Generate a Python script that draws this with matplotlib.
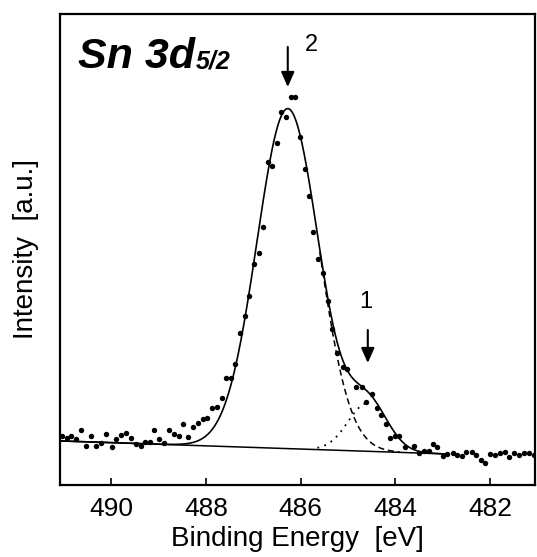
import numpy as np
import matplotlib.pyplot as plt

plt.rcParams['font.family'] = ['Liberation Sans', 'DejaVu Sans']

energy = [491.04, 490.93, 490.84, 490.74, 490.64, 490.53, 490.42, 490.32, 490.21, 490.11,
          489.99, 489.89, 489.79, 489.69, 489.58, 489.48, 489.37, 489.28, 489.18, 489.09,
          488.99, 488.88, 488.78, 488.68, 488.57, 488.48, 488.38, 488.28, 488.17, 488.07,
          487.97, 487.88, 487.77, 487.66, 487.57, 487.47, 487.38, 487.28, 487.18, 487.08,
          486.98, 486.88, 486.79, 486.69, 486.60, 486.50, 486.41, 486.31, 486.20, 486.11,
          486.01, 485.91, 485.82, 485.73, 485.63, 485.52, 485.42, 485.34, 485.24, 485.11,
          485.01, 484.82, 484.71, 484.61, 484.50, 484.39, 484.30, 484.20, 484.11, 484.01,
          483.92, 483.80, 483.60, 483.50, 483.39, 483.28, 483.20, 483.11, 483.00, 482.90,
          482.79, 482.69, 482.59, 482.50, 482.39, 482.30, 482.19, 482.11, 482.00, 481.90,
          481.79, 481.69, 481.60, 481.49, 481.39, 481.29, 481.18, 481.08]
intensity = [52, 50, 52, 49, 58, 42, 52, 42, 45, 54,
             41, 49, 53, 55, 50, 44, 42, 46, 46, 58,
             49, 45, 58, 54, 52, 64, 51, 61, 65, 69,
             70, 80, 81, 90, 110, 110, 124, 155, 172, 192,
             224, 235, 261, 326, 322, 345, 376, 371, 391, 391,
             351, 319, 292, 256, 229, 215, 187, 159, 135, 121,
             119, 101, 101, 86, 94, 80, 73, 64, 50, 52,
             52, 41, 42, 35, 37, 37, 44, 41, 32, 34,
             35, 33, 32, 36, 36, 33, 28, 25, 34, 33,
             35, 36, 31, 35, 33, 35, 35, 33]

# fitted components: peak 1 (shoulder), peak 2 (main)
peak_label = ['1', '2']
peak_centre = [484.58, 486.27]
peak_height = [48, 340]
peak_fwhm = [0.98, 1.53]

# linear background end points
bg_energy = [491.05, 482.9]
bg_level = [47, 34]

x_ticks = [490, 488, 486, 484, 482]


def gauss(e, centre, height, fwhm):
    sigma = fwhm / (2.0 * np.sqrt(2.0 * np.log(2.0)))
    return height * np.exp(-(e - centre) ** 2 / (2.0 * sigma ** 2))


def background(e):
    return np.interp(e, bg_energy[::-1], bg_level[::-1])


fig = plt.figure(figsize=(5.37, 5.57), dpi=100)
ax = fig.add_axes([0.1117, 0.1293, 0.8845, 0.8456])

e = np.linspace(bg_energy[0], bg_energy[1], 800)
comp1 = gauss(e, peak_centre[0], peak_height[0], peak_fwhm[0])
comp2 = gauss(e, peak_centre[1], peak_height[1], peak_fwhm[1])
bg = background(e)

ax.plot(e, bg, color='black', lw=1.1)
ax.plot(e, bg + comp1 + comp2, color='black', lw=1.2)
m = (e <= 485.6) & (e >= 483.9)
ax.plot(e[m], bg[m] + comp2[m], color='black', lw=1.1, ls=(0, (4, 2.5)))
m = (e <= 485.65) & (e >= 484.55)
ax.plot(e[m], bg[m] + comp1[m], color='black', lw=1.3, ls=(0, (1, 3)))

ax.plot(energy, intensity, 'o', color='black', ms=3.9, mec='none')

# peak markers
arrow = dict(arrowstyle='-|>,head_length=0.45,head_width=0.2',
             color='black', lw=1.5, shrinkA=0, shrinkB=0, mutation_scale=20)
ax.annotate('', xy=(peak_centre[1], 401), xytext=(peak_centre[1], 441), arrowprops=arrow)
ax.text(485.78, 443, peak_label[1], fontsize=17, ha='center', va='center')
ax.annotate('', xy=(peak_centre[0], 125), xytext=(peak_centre[0], 158), arrowprops=arrow)
ax.text(peak_centre[0] + 0.04, 186, peak_label[0], fontsize=17, ha='center', va='center')

t = ax.text(0.038, 0.886, 'Sn 3d', transform=ax.transAxes, fontsize=31,
            fontweight='bold', fontstyle='italic', va='baseline')
ax.annotate('5/2', xy=(1, 0), xycoords=t, xytext=(0.5, 2.6), textcoords='offset points',
            fontsize=18, fontweight='bold', fontstyle='italic', va='bottom', ha='left')

ax.set_xlim(491.08, 481.05)
ax.set_ylim(3, 474)
ax.set_xticks(x_ticks)
ax.set_yticks([])
ax.tick_params(axis='x', direction='in', length=5, width=1.2, labelsize=19, pad=9)
for s in ax.spines.values():
    s.set_linewidth(1.6)

ax.set_xlabel('Binding Energy  [eV]', fontsize=20, labelpad=3)
ax.set_ylabel('Intensity  [a.u.]', fontsize=20)
ax.yaxis.set_label_coords(-0.045, 0.5)

fig.savefig('out.png', dpi=100)
